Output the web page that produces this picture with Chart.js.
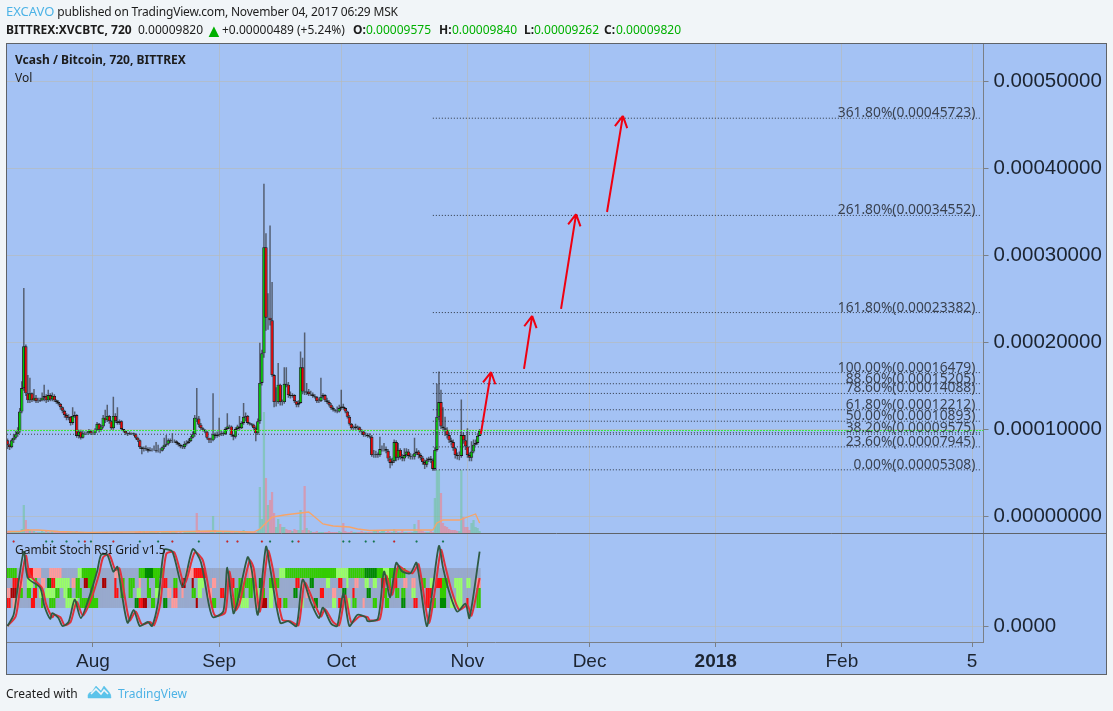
<!DOCTYPE html>
<html><head><meta charset="utf-8">
<style>
html,body{margin:0;padding:0;width:1113px;height:711px;overflow:hidden;background:#f1f5f8}
canvas{position:absolute;left:0;top:0}
.t{position:absolute;font:12px "Noto Sans",sans-serif;color:#1c1c1c;white-space:nowrap;line-height:16px}
.s{letter-spacing:-.18px}
.b{font-weight:700}.g{color:#00b000}.u{color:#4db3e6}
</style>
<script src="https://cdn.jsdelivr.net/npm/chart.js@4"></script>
</head><body>
<canvas id="c" width="1113" height="711"></canvas>
<div class="t s" style="left:6px;top:3px"><span class="u" style="font-size:13px;letter-spacing:0">EXCAVO</span> published on TradingView.com, November 04, 2017 06:29 MSK</div>
<div class="t b" style="left:6px;top:22px">BITTREX:XVCBTC, 720</div>
<div class="t" style="left:138px;top:22px">0.00009820</div>
<div class="t g" style="left:205px;top:22px;font-size:18px">▲</div>
<div class="t" style="left:222px;top:22px">+0.00000489 (+5.24%)</div>
<div class="t b" style="left:353px;top:22px">O:</div><div class="t g" style="left:366px;top:22px">0.00009575</div>
<div class="t b" style="left:439px;top:22px">H:</div><div class="t g" style="left:452px;top:22px">0.00009840</div>
<div class="t b" style="left:524px;top:22px">L:</div><div class="t g" style="left:534px;top:22px">0.00009262</div>
<div class="t b" style="left:604px;top:22px">C:</div><div class="t g" style="left:616px;top:22px">0.00009820</div>
<div class="t b" style="left:15px;top:52px">Vcash / Bitcoin, 720, BITTREX</div>
<div class="t" style="left:15px;top:70px">Vol</div>
<div class="t" style="left:15px;top:542px">Gambit Stoch RSI Grid v1.5</div>
<div class="t" style="left:6px;top:686px">Created with</div>
<svg style="position:absolute;left:87px;top:684px" width="25" height="15" viewBox="0 0 25 15"><path d="M1 14 L1 11 Q2 8 5 8 L9 2 L14 7 L17 2 L22 8 Q24 10 24 14 Z M6 12 L10 7 L14 11 L17 7 L20 12" fill="#5bc3ea" stroke="#5bc3ea" stroke-width=".5"/><path d="M4 10 L9 5 L14 10 L17 6 L21 10" fill="none" stroke="#f1f5f8" stroke-width="1.6"/></svg>
<div class="t u" style="left:118px;top:686px">TradingView</div>
<script>
const PRICE_UNIT = 1e-5;
const firstBarDay = -21, barStepDays = 0.5; // days relative to 1 Aug 2017
const opens = [8.7,8.2,7.9,8.7,9.0,9.4,9.7,12.0,14.7,19.5,14.1,13.3,14.1,13.3,13.6,13.2,13.2,13.3,13.6,13.8,13.3,13.9,13.4,13.8,13.3,13.1,12.9,12.5,12.1,11.6,11.3,11.4,10.7,11.5,11.6,9.2,9.7,9.0,9.5,9.5,9.5,9.8,9.5,9.5,9.9,10.6,9.9,10.3,11.3,11.0,11.5,10.9,10.1,11.5,10.9,10.7,10.9,10.0,9.8,9.5,9.4,9.5,9.5,9.4,9.0,8.7,7.9,7.7,7.8,7.7,7.5,7.6,7.6,7.6,7.5,7.5,7.5,7.9,8.2,8.3,8.7,8.6,8.6,8.6,8.4,8.2,8.0,7.9,8.3,8.4,8.6,9.0,9.4,11.3,11.2,10.5,10.1,9.9,9.7,9.0,8.7,8.7,9.4,9.2,9.3,9.4,9.5,9.4,10.0,10.3,10.3,9.3,9.1,10.0,10.3,10.1,10.7,11.4,11.5,10.7,10.6,10.5,10.1,9.5,10.9,15.3,18.7,30.9,22.8,22.8,22.5,16.2,13.1,13.1,15.1,13.1,13.1,15.2,15.1,13.9,13.8,13.9,13.2,12.8,13.0,17.1,14.3,14.2,14.3,14.0,14.0,13.8,13.7,13.2,13.2,13.7,13.9,13.3,13.1,12.8,12.4,12.2,12.1,12.0,12.4,12.6,12.4,12.0,11.4,10.6,10.1,10.1,10.3,10.2,9.8,9.7,9.3,9.3,9.2,9.1,7.0,7.0,7.1,7.0,7.7,7.7,7.7,7.5,6.6,6.1,6.3,8.5,6.7,7.6,6.8,6.6,7.0,7.4,6.9,6.8,6.8,7.2,7.4,7.0,6.7,6.2,5.9,6.4,6.6,6.4,5.4,7.6,11.4,13.1,10.3,10.1,9.9,9.3,8.7,8.5,7.8,7.0,6.9,6.9,9.3,8.7,8.0,7.0,6.7,7.4,8.2,8.4,9.2];
const closes = [8.2,7.9,8.7,9.0,9.4,9.7,12.0,14.7,19.5,14.1,13.3,14.1,13.3,13.6,13.2,13.2,13.3,13.6,13.8,13.3,13.9,13.4,13.8,13.3,13.1,12.9,12.5,12.1,11.6,11.3,11.4,10.7,11.5,11.6,9.2,9.7,9.0,9.5,9.5,9.5,9.8,9.5,9.5,9.9,10.6,9.9,10.3,11.3,11.0,11.5,10.9,10.1,11.5,10.9,10.7,10.9,10.0,9.8,9.5,9.4,9.5,9.5,9.4,9.0,8.7,7.9,7.7,7.8,7.7,7.5,7.6,7.6,7.6,7.5,7.5,7.5,7.9,8.2,8.3,8.7,8.6,8.6,8.6,8.4,8.2,8.0,7.9,8.3,8.4,8.6,9.0,9.4,11.3,11.2,10.5,10.1,9.9,9.7,9.0,8.7,8.7,9.4,9.2,9.3,9.4,9.5,9.4,10.0,10.3,10.3,9.3,9.1,10.0,10.3,10.1,10.7,11.4,11.5,10.7,10.6,10.5,10.1,9.5,10.9,15.3,18.7,30.9,22.8,22.8,22.5,16.2,13.1,13.1,15.1,13.1,13.1,15.2,15.1,13.9,13.8,13.9,13.2,12.8,13.0,17.1,14.3,14.2,14.3,14.0,14.0,13.8,13.7,13.2,13.2,13.7,13.9,13.3,13.1,12.8,12.4,12.2,12.1,12.0,12.4,12.6,12.4,12.0,11.4,10.6,10.1,10.1,10.3,10.2,9.8,9.7,9.3,9.3,9.2,9.1,7.0,7.0,7.1,7.0,7.7,7.7,7.7,7.5,6.6,6.1,6.3,8.5,6.7,7.6,6.8,6.6,7.0,7.4,6.9,6.8,6.8,7.2,7.4,7.0,6.7,6.2,5.9,6.4,6.6,6.4,5.4,7.6,11.4,13.1,10.3,10.1,9.9,9.3,8.7,8.5,7.8,7.0,6.9,6.9,9.3,8.7,8.0,7.0,6.7,7.4,8.2,8.4,9.2,9.8];
const highs = [8.9,8.3,8.9,9.4,9.8,10.2,12.4,15.5,26.2,19.7,16.2,15.9,14.2,14.6,13.9,13.6,13.6,14.2,15.1,14.0,14.5,14.1,14.2,14.0,13.4,13.3,13.0,12.6,12.2,11.8,11.7,11.5,12.5,12.0,11.7,9.9,9.9,9.8,9.7,9.7,10.0,9.9,9.6,10.1,10.8,10.7,10.5,11.6,12.2,12.8,11.6,11.0,13.7,11.8,12.5,11.1,11.0,10.0,9.8,9.6,9.7,9.6,9.6,9.5,9.1,8.8,8.0,8.0,8.1,7.9,7.9,7.8,8.1,8.5,8.2,7.8,8.0,9.0,9.3,8.9,8.9,9.5,8.8,8.7,8.5,8.3,8.2,8.6,8.7,8.9,9.2,9.7,11.6,14.7,11.5,10.7,10.2,10.0,9.8,9.0,9.0,14.1,9.6,9.7,11.3,9.8,9.7,10.2,11.8,10.5,10.4,9.4,10.2,10.5,11.5,10.9,13.0,11.9,11.6,10.8,10.7,10.6,10.3,11.2,19.9,19.1,38.2,32.5,25.6,33.4,26.9,16.3,14.8,17.6,15.2,13.4,17.1,17.1,15.4,14.3,14.1,14.0,13.2,13.3,18.9,18.2,21.1,15.3,14.6,14.4,14.2,14.0,13.8,13.5,15.9,14.1,14.0,13.6,13.3,13.0,12.6,12.3,12.6,12.8,14.5,12.9,12.5,12.1,11.6,10.7,10.4,10.6,10.4,10.3,10.0,9.8,9.6,9.5,9.5,9.3,7.6,7.5,7.3,9.1,8.1,8.4,8.0,7.7,6.9,6.7,8.8,8.7,8.4,7.8,7.1,7.8,7.8,7.7,7.2,7.1,9.0,7.8,7.6,7.2,6.9,6.5,6.7,6.8,6.9,6.6,7.9,15.2,16.6,14.5,12.5,11.4,10.2,9.6,9.0,8.8,7.9,7.3,7.4,13.4,9.6,9.3,10.1,7.3,8.6,8.8,8.8,9.5,10.0];
const lows = [7.7,7.6,7.8,8.4,8.8,9.1,9.5,11.8,14.4,13.8,13.0,13.0,13.1,13.2,13.0,13.0,13.1,13.2,13.2,13.0,13.1,13.2,13.2,13.1,12.9,12.7,12.2,11.8,11.3,11.0,11.0,10.4,10.5,11.3,9.0,8.9,8.8,8.9,9.3,9.3,9.4,9.3,9.3,9.3,9.8,9.6,9.7,10.1,10.7,10.8,10.6,9.9,9.9,10.7,10.5,10.5,9.8,9.6,9.3,9.2,9.3,9.3,9.2,8.8,8.5,7.7,7.1,7.4,7.5,7.3,7.4,7.4,7.5,7.3,7.3,7.2,7.4,7.7,8.0,8.1,8.4,8.4,8.4,8.2,8.0,7.8,7.7,7.7,8.1,8.3,8.5,8.9,9.1,10.8,10.2,9.9,9.7,9.5,8.8,8.4,8.4,8.6,8.9,9.0,9.1,9.2,9.2,9.3,9.9,10.0,9.1,8.7,8.9,9.8,9.9,10.0,10.5,10.9,10.5,10.4,10.3,9.9,8.6,9.3,10.6,15.0,18.2,21.3,21.4,21.9,16.0,12.5,12.6,12.9,12.7,12.7,12.9,14.8,13.6,13.5,13.6,13.0,12.5,12.5,12.9,14.0,13.9,13.9,13.8,13.8,13.6,13.5,13.0,13.0,13.1,13.5,13.1,12.9,12.6,12.2,12.0,11.9,11.8,11.9,12.2,12.2,11.8,11.2,10.4,9.9,9.9,9.9,9.9,9.6,9.4,9.1,9.1,9.0,8.9,6.8,6.7,6.7,6.7,6.8,7.4,7.4,7.2,6.3,5.5,5.8,6.1,6.3,6.4,6.5,6.3,6.3,6.8,6.6,6.5,6.5,6.5,7.0,6.6,6.4,5.9,5.4,5.6,6.2,6.1,5.2,5.2,7.4,11.0,10.0,9.7,9.2,8.9,8.4,8.1,7.5,6.6,6.5,6.4,6.7,8.3,7.6,6.7,6.3,6.3,7.2,8.1,8.2,9.4];
const volumes = [2,2,1,1,1,2,2,4,28,13,4,3,2,2,1,1,1,2,1,2,1,1,2,1,1,1,1,1,1,1,1,1,1,1,2,1,1,1,0,0,0,1,0,0,1,1,0,1,1,1,0,0,1,0,1,0,1,0,0,0,0,0,0,1,1,2,1,2,1,1,1,2,1,1,1,0,1,1,1,1,1,1,2,1,0,1,0,1,1,1,1,1,2,20,3,2,1,1,1,1,1,17,3,1,1,1,1,2,2,1,1,1,2,1,1,2,3,2,1,1,1,1,1,3,46,14,121,55,28,33,41,20,6,14,9,6,6,4,3,3,2,4,3,3,23,3,47,5,3,2,1,1,2,1,1,1,1,1,2,1,1,1,1,2,1,10,2,1,1,2,1,1,1,1,2,1,1,1,1,1,2,2,2,1,2,2,1,2,1,1,4,2,1,1,3,1,1,1,1,1,9,2,13,3,2,1,1,1,2,1,35,63,63,40,10,7,6,4,3,3,3,2,2,63,16,6,6,3,10,13,6,5,2];
const volMaBars = [0,6,9,15,25,40,60,90,100,121,124,127,130,136,144,148,151,155,160,168,172,178,190,209,211,214,222,226,230,232];
const volMaValues = [1.5,1.5,3,3,1.5,0.7,1,1.5,2,1,4,10,16,18,20,21,16,9,7,6,4,2.5,3,3,10,13,13,16,19,10];

const oscBars = [0,3,5,8,10,16,18,21,22,25,27,30,33,36,40,44,46,49,52,54,56,59,62,65,69,71,74,77,81,86,91,95,99,101,106,108,111,113,118,120,123,127,129,134,138,142,145,149,153,155,159,162,165,168,172,176,177,182,185,188,191,194,198,201,206,209,212,214,217,221,225,227,232];
const oscK = [0,14,48,93,60,48,26,9,16,10,0,5,33,10,35,68,89,89,68,74,43,4,20,0,5,0,30,95,93,49,96,80,26,11,18,73,16,30,86,70,14,99,73,4,6,0,58,30,10,23,3,0,41,0,14,11,6,9,68,36,79,68,66,79,0,48,100,73,43,18,28,10,93];
const oscDBars = [0,4,6,9,11,17,19,22,23,26,28,31,34,37,41,45,47,50,53,55,57,60,63,66,70,72,75,78,82,87,92,96,100,102,107,109,112,114,119,121,124,128,130,135,139,143,146,150,154,156,160,163,166,169,173,177,178,183,186,189,192,195,199,202,207,210,213,215,218,222,226,228,232];
const oscD = [0,12,44,88,64,47,27,11,14,11,1,5,30,13,33,65,86,89,70,72,46,7,18,2,5,1,27,90,92,52,92,82,30,13,17,68,20,28,82,72,18,94,76,8,6,1,54,33,12,21,5,1,38,4,12,11,7,9,63,39,75,70,66,77,4,44,95,76,46,20,26,13,60];
const crossRed = [3,38,52,81,108,113,125,143,190];
const crossGreen = [19,22,29,35,41,65,74,94,129,140,165,168,176,180,201,214];
// Grid rows: each token is <firstBar><colour code><number of bars>
const gridRow1 = "0g5 10r3 13p4 21p6 35l2 37g7 53p3 65g3 68G4 72g5 88p4 92r6 119p3 134l3 137g25 162l6 168g8 176G6 182g3 185l3 188g8";
const gridRow2 = "3r3 6p2 10l3 14g1 17p2 20G2 22r2 24l2 26l5 32p2 34g2 38d2 40g3 47d2 53r1 56g2 60g3 65p1 69g1 73g2 77r2 82g2 86d2 91d1 94l3 101p2 110r2 114g2 117g2 119g3 124G2 129g2 131g3 142r2 145p1 149G2 157l2 163r2 167l1 171p2 176l2 180l2 184r2 187g2 190r2 195p2 199p2 204g2 208l2 211r3 214g3 220l4 226l2 231p2";
const gridRow3 = "0p2 2d3 6g2 10g2 13r2 16l2 19l5 24g2 28l2 30g2 34g3 41g2 53r2 56g2 60g2 64l2 69g2 73l3 79p2 82r2 86p1 91g2 94l2 99p2 105r2 112g3 115g2 119g2 122l2 125g2 129l2 141G2 147p2 154r2 160p2 165G2 170r1 177G2 185g2 191g2 194g2 199l2 206r3 213g3 221l3 231g2";
const gridRow4 = "0r2 3p3 12r2 17g1 21g3 29l6 36g9 63G2 65r2 67d2 71g2 77G2 81p3 93d1 101g2 111g3 115l4 122p2 125d3 129l2 133r2 136g2 144l2 151G2 160l2 163r2 167l2 170g2 175p1 180g2 186g2 194G2 200r2 206r2 209g2 213G3 218l2 221l3 226r1 231g2";
const gridRows = [gridRow1,gridRow2,gridRow3,gridRow4];
const gridBands = [[60,72.5],[47.5,60],[35,47.5],[22.5,35]];
const gridColours = {g:"#33cc00",G:"#008a00",l:"#99ff66",r:"#ff1010",d:"#aa0000",p:"#ff9a9a"};

const fibLevels = [0.00045723,0.00034552,0.00023382,0.00016479,0.00015205,0.00014088,0.00012212,0.00010893,0.00009575,0.00007945,0.00005308];
const fibLabels = ["361.80%(0.00045723)","261.80%(0.00034552)","161.80%(0.00023382)","100.00%(0.00016479)","88.60%(0.00015205)","78.60%(0.00014088)","61.80%(0.00012212)","50.00%(0.00010893)","38.20%(0.00009575)","23.60%(0.00007945)","0.00%(0.00005308)"];
const fibStartDay = 83.5, fibEndDay = 218.3, fibLabelDay = 216.8;
const lastPrice = 0.0000982, baseLine = 0.0000940;
const arrowTails = [[95.3,0.0000943],[105.9,0.000169],[115,0.000238],[126.3,0.0003494]];
const arrowTips = [[97.8,0.0001655],[107.9,0.000230],[118.7,0.000347],[130.2,0.000460]];

const priceTicks = [0,0.0001,0.0002,0.0003,0.0004,0.0005];
const timeTickDays = [0,31,61,92,122,153,184,216];
const timeTickLabels = ["Aug","Sep","Oct","Nov","Dec","2018","Feb","5"];

const barDays = closes.map((_,i)=>firstBarDay+i*barStepDays);
const P = v=>v*PRICE_UNIT;
const floatBars = (a,b)=>barDays.map((x,i)=>({x,y:[P(a[i]),P(b[i])]}));
const isUp = closes.map((c,i)=>c>=opens[i]);
const dayOf = i=>firstBarDay+i*barStepDays;

function rowColours(spec){
  const out = barDays.map(()=> "rgba(0,0,0,0)");
  spec.split(" ").forEach(tok=>{
    const m = tok.match(/^(\d+)([a-zA-Z])(\d+)$/);
    for(let k=0;k<+m[3];k++) if(+m[1]+k<out.length) out[+m[1]+k]=gridColours[m[2]];
  });
  return out;
}
const barBase = {type:"bar",grouped:false,borderSkipped:false,inflateAmount:0};
const datasets = [];
// volume
datasets.push({...barBase,label:"Volume",yAxisID:"vol",order:60,barThickness:2.2,
  data:barDays.map((x,i)=>({x,y:volumes[i]})),
  backgroundColor:isUp.map(u=>u?"rgba(102,198,140,.5)":"rgba(255,116,118,.5)")});
datasets.push({type:"line",label:"Volume MA",yAxisID:"vol",order:55,borderColor:"#f7a468",borderWidth:1.3,pointRadius:0,
  data:volMaBars.map((b,i)=>({x:dayOf(b),y:volMaValues[i]}))});
// candles
datasets.push({...barBase,label:"Wicks",yAxisID:"y",order:40,barThickness:1.5,data:floatBars(lows,highs),backgroundColor:"rgba(58,62,70,.75)"});
datasets.push({...barBase,label:"Candles",yAxisID:"y",order:39,barThickness:3.4,borderWidth:0.9,borderColor:"#1a1a1a",data:floatBars(opens,closes),
  backgroundColor:isUp.map(u=>u?"#00c800":"#e80000")});
// fibonacci levels
fibLevels.forEach((v,i)=>datasets.push({type:"line",label:fibLabels[i],yAxisID:"y",order:30,borderColor:"#2c3440",borderWidth:1,borderDash:[1,2],pointRadius:0,
  data:[{x:fibStartDay,y:v},{x:fibEndDay,y:v}]}));
const xMin=-21.13, xMax=218.8;
datasets.push({type:"line",label:"Base",yAxisID:"y",order:29,borderColor:"#3c4048",borderWidth:1,borderDash:[1,2],pointRadius:0,data:[{x:xMin,y:baseLine},{x:fibEndDay,y:baseLine}]});
datasets.push({type:"line",label:"Last",yAxisID:"y",order:28,borderColor:"#30f030",borderWidth:1,borderDash:[2,1],pointRadius:0,data:[{x:xMin,y:lastPrice},{x:xMax,y:lastPrice}]});
// oscillator grid
datasets.push({...barBase,label:"Grid band",yAxisID:"osc",order:25,barThickness:2.1,
  data:barDays.map(x=>({x,y:[22.5,72.5]})),backgroundColor:"rgba(135,135,150,.42)"});
gridRows.forEach((r,i)=>datasets.push({...barBase,label:"Grid row "+(i+1),yAxisID:"osc",order:24,barThickness:2.1,
  data:barDays.map(x=>({x,y:gridBands[i]})),backgroundColor:rowColours(r)}));
datasets.push({type:"line",label:"%D",yAxisID:"osc",order:22,borderColor:"#e0323c",borderWidth:2,pointRadius:0,tension:0.25,
  data:oscDBars.map((b,i)=>({x:dayOf(b),y:oscD[i]}))});
datasets.push({type:"line",label:"%K",yAxisID:"osc",order:21,borderColor:"#2f5a42",borderWidth:1.8,pointRadius:0,tension:0.25,
  data:oscBars.map((b,i)=>({x:dayOf(b),y:oscK[i]}))});
datasets.push({type:"scatter",label:"Cross down",yAxisID:"osc",order:20,backgroundColor:"#e02020",pointRadius:1,data:crossRed.map(b=>({x:dayOf(b),y:105.6}))});
datasets.push({type:"scatter",label:"Cross up",yAxisID:"osc",order:20,backgroundColor:"#108050",pointRadius:1,data:crossGreen.map(b=>({x:dayOf(b),y:105.6}))});

const frame = {
  id:"frame",
  beforeDraw(ch){
    const g=ch.ctx; g.save();
    g.fillStyle="#f1f5f8"; g.fillRect(0,0,1113,711);
    g.fillStyle="#a4c2f4"; g.fillRect(7,44,1099,630);
    g.restore();
  },
  afterDatasetsDraw(ch){
    const g=ch.ctx,x=ch.scales.x,y=ch.scales.y; g.save();
    g.font='13.8px "Noto Sans",sans-serif'; g.fillStyle="#3a4250"; g.textAlign="right"; g.textBaseline="alphabetic";
    fibLevels.forEach((v,i)=>g.fillText(fibLabels[i],x.getPixelForValue(fibLabelDay),y.getPixelForValue(v)-1));
    g.strokeStyle="#f00010"; g.lineWidth=2; g.lineCap="butt";
    arrowTails.forEach((t,i)=>{
      const ax=x.getPixelForValue(t[0]),ay=y.getPixelForValue(t[1]),bx=x.getPixelForValue(arrowTips[i][0]),by=y.getPixelForValue(arrowTips[i][1]);
      const ang=Math.atan2(by-ay,bx-ax);
      g.beginPath();g.moveTo(ax,ay);g.lineTo(bx,by);
      [-0.5,0.5].forEach(d=>{g.moveTo(bx,by);g.lineTo(bx-13*Math.cos(ang+d),by-13*Math.sin(ang+d));});
      g.stroke();
    });
    g.restore();
  },
  afterDraw(ch){
    const g=ch.ctx; g.save();
    g.strokeStyle="#5f6368"; g.lineWidth=1;
    g.strokeRect(6.5,43.5,1100,631);
    g.beginPath();g.moveTo(7,533.5);g.lineTo(1106,533.5);g.stroke();
    g.restore();
  }
};
const gridColor="rgba(185,185,180,.6)";
new Chart(document.getElementById("c"),{
  data:{datasets},
  plugins:[frame],
  options:{
    responsive:false,animation:false,events:[],
    layout:{padding:{left:7,top:44,right:7,bottom:37}},
    plugins:{legend:{display:false},title:{display:false},tooltip:{enabled:false}},
    datasets:{line:{tension:0,spanGaps:true}},
    scales:{
      x:{type:"linear",position:"bottom",min:xMin,max:xMax,offset:false,
        grid:{offset:false,color:gridColor,tickColor:"#7a7f86",tickLength:5,drawTicks:true},
        border:{color:"#7a7f86"},
        afterBuildTicks:s=>{s.ticks=timeTickDays.map(value=>({value}));},
        afterFit:s=>{s.height=32;},
        ticks:{autoSkip:false,maxRotation:0,padding:3,color:"#1c2430",
          font:c=>({family:'"Liberation Sans",sans-serif',size:19,weight:c.tick&&c.tick.value===153?"bold":"normal"}),
          callback:v=>timeTickLabels[timeTickDays.indexOf(v)]}},
      y:{type:"linear",position:"right",stack:"panes",stackWeight:489,
        min:-0.00001954,max:0.00054253,
        grid:{color:gridColor,tickColor:"#7a7f86",tickLength:5},
        border:{color:"#7a7f86"},
        afterBuildTicks:s=>{s.ticks=priceTicks.map(value=>({value}));},
        afterFit:s=>{s.width=122.5;},
        ticks:{padding:5,color:"#1c2430",font:{family:'"Liberation Sans",sans-serif',size:20.5},callback:v=>v.toFixed(8)}},
      osc:{type:"linear",position:"right",stack:"panes",stackWeight:109,
        min:-20,max:116.25,
        grid:{color:gridColor,tickColor:"#7a7f86",tickLength:5},
        border:{color:"#7a7f86"},
        afterBuildTicks:s=>{s.ticks=[{value:0}];},
        afterFit:s=>{s.width=122.5;},
        ticks:{padding:5,color:"#1c2430",font:{family:'"Liberation Sans",sans-serif',size:20.5},callback:v=>v.toFixed(4)}},
      vol:{type:"linear",position:"right",display:false,min:-109,max:489}
    }
  }
});
</script>
</body></html>
